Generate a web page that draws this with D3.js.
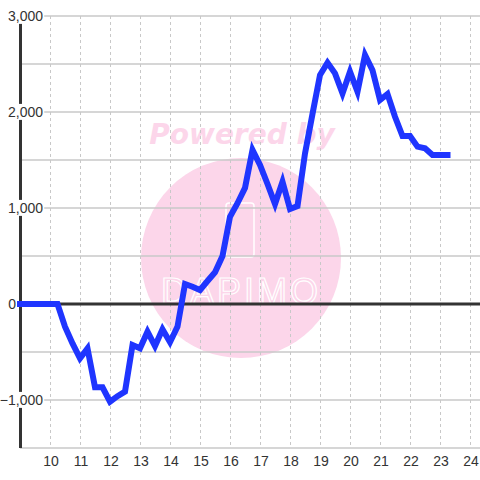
<!DOCTYPE html>
<html>
<head>
<meta charset="utf-8">
<script src="https://cdn.jsdelivr.net/npm/d3@7"></script>
<style>
  body { margin: 0; background: #fff; }
  svg { display: block; font-family: "Liberation Sans", Arial, sans-serif; }
</style>
</head>
<body>
<div id="chart"></div>
<script>
// hours of the day (x) and value at that moment (y)
var hours = [9, 10.25, 10.5, 10.75, 11, 11.25, 11.5, 11.75, 12, 12.25, 12.5, 12.75,
  13, 13.25, 13.5, 13.75, 14, 14.25, 14.5, 14.75, 15, 15.25, 15.5, 15.75,
  16, 16.25, 16.5, 16.75, 17, 17.25, 17.5, 17.75, 18, 18.25, 18.5, 18.75,
  19, 19.25, 19.5, 19.75, 20, 20.25, 20.5, 20.75, 21, 21.25, 21.5, 21.75,
  22, 22.25, 22.5, 22.75, 23, 23.25];
var values = [0, 0, -236, -410, -565, -462, -868, -868, -1018, -960, -913, -427,
  -461, -288, -438, -264, -398, -236, 208, 180, 146, 240, 330, 500,
  909, 1050, 1209, 1604, 1448, 1250, 1042, 1274, 990, 1021, 1569, 1980,
  2385, 2514, 2402, 2194, 2420, 2211, 2594, 2435, 2125, 2188, 1950, 1750,
  1750, 1639, 1622, 1552, 1552, 1552];
var xTicks = [10, 11, 12, 13, 14, 15, 16, 17, 18, 19, 20, 21, 22, 23, 24];
var yGrid = [-1500, -1000, -500, 0, 500, 1000, 1500, 2000, 2500, 3000];
var yLabels = [-1000, 0, 1000, 2000, 3000];

var width = 480, height = 480;
var svg = d3.select("#chart").append("svg")
  .attr("width", width)
  .attr("height", height);

var x = d3.scaleLinear().domain([9, 24.333]).range([20, 480]);
var y = d3.scaleLinear().domain([-1500, 3000]).range([448, 16]);
var fmt = d3.format(",");

// watermark
var wm = svg.append("g");
wm.append("circle")
  .attr("cx", 241).attr("cy", 258).attr("r", 100)
  .style("fill", "#fcd6ea");
wm.append("text")
  .attr("x", 242).attr("y", 144)
  .attr("text-anchor", "middle")
  .style("font-family", "'DejaVu Sans', sans-serif")
  .style("font-size", "28px")
  .style("font-weight", "bold")
  .style("font-style", "italic")
  .style("fill", "#fcd6ea")
  .text("Powered by");
wm.append("rect")
  .attr("x", 226).attr("y", 203).attr("width", 28).attr("height", 54).attr("rx", 3)
  .style("fill", "none").style("stroke", "#fff").style("stroke-width", 1.5);
wm.append("text")
  .attr("x", 241).attr("y", 304)
  .attr("text-anchor", "middle")
  .style("font-size", "36px")
  .style("letter-spacing", "3px")
  .style("fill", "none")
  .style("stroke", "#fff")
  .style("stroke-width", 1.2)
  .text("DAPIMO");

// grid
svg.append("g").selectAll("line.h")
  .data(yGrid).enter().append("line")
  .attr("x1", 20).attr("x2", width)
  .attr("y1", function (d) { return y(d); })
  .attr("y2", function (d) { return y(d); })
  .style("stroke", "#c8c8c8")
  .style("stroke-width", 1.5);

svg.append("g").selectAll("line.v")
  .data(xTicks).enter().append("line")
  .attr("x1", function (d) { return Math.round(x(d)) + 0.5; })
  .attr("x2", function (d) { return Math.round(x(d)) + 0.5; })
  .attr("y1", y(3000)).attr("y2", y(-1500))
  .style("stroke", "#c8c8c8")
  .style("stroke-dasharray", "3,3");

// zero line and y axis
svg.append("line")
  .attr("x1", 20).attr("x2", width)
  .attr("y1", y(0)).attr("y2", y(0))
  .style("stroke", "#333")
  .style("stroke-width", 3);
svg.append("line")
  .attr("x1", 20.5).attr("x2", 20.5)
  .attr("y1", y(3000)).attr("y2", y(-1500))
  .style("stroke", "#333")
  .style("stroke-width", 3);

// data line
var line = d3.line()
  .x(function (d, i) { return x(hours[i]); })
  .y(function (d) { return y(d); });
svg.append("path")
  .datum(values)
  .attr("d", line)
  .style("fill", "none")
  .style("stroke", "#1f35ff")
  .style("stroke-width", 6)
  .style("stroke-linecap", "square")
  .style("stroke-linejoin", "miter");

// y labels on white boxes (the zero label sits left of the axis)
var yl = svg.append("g").selectAll("g")
  .data(yLabels).enter().append("g")
  .attr("transform", function (d) { return "translate(" + (d === 0 ? 16 : 43) + "," + y(d) + ")"; });
yl.append("text")
  .attr("text-anchor", "end")
  .attr("dy", "0.35em")
  .style("font-size", "14px")
  .style("fill", "#333")
  .text(function (d) { return fmt(d); });
yl.each(function (d) {
  if (d === 0) return;
  var g = d3.select(this);
  var b = g.select("text").node().getBBox();
  g.insert("rect", "text")
    .attr("x", b.x - 1).attr("y", b.y)
    .attr("width", b.width + 2).attr("height", b.height)
    .style("fill", "#fff");
});

// x labels
svg.append("g").selectAll("text")
  .data(xTicks).enter().append("text")
  .attr("x", function (d) { return x(d) + 1; })
  .attr("y", 466)
  .attr("text-anchor", "middle")
  .style("font-size", "14px")
  .style("fill", "#333")
  .text(function (d) { return d; });
</script>
</body>
</html>
